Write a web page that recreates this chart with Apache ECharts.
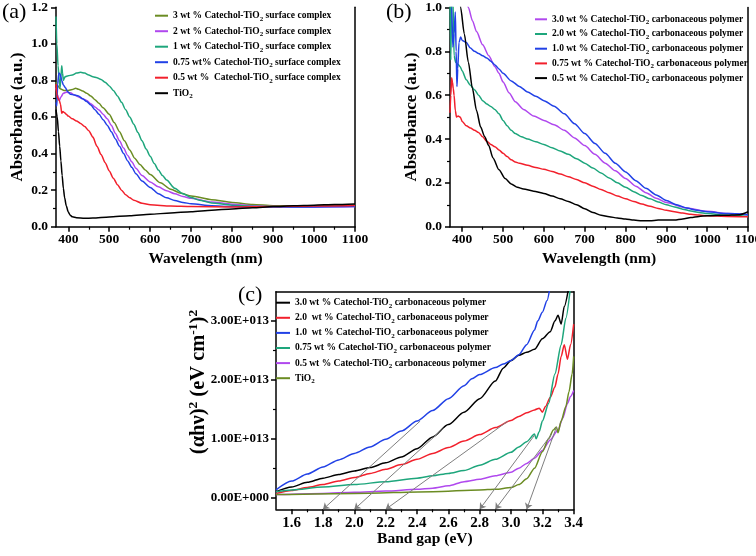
<!DOCTYPE html>
<html><head><meta charset="utf-8">
<script src="https://cdn.jsdelivr.net/npm/echarts@6/dist/echarts.min.js"></script>
<style>html,body{margin:0;padding:0;background:#fff}#c{width:756px;height:556px}</style>
</head><body><div id="c"></div>
<script>
// ---------- Panel (a): Catechol-TiO2 surface complex, absorbance vs wavelength ----------
const aXTicks = [400, 500, 600, 700, 800, 900, 1000, 1100];
const aXMinor = [450, 550, 650, 750, 850, 950, 1050];
const a3wt = [[370,0.79],[375,0.77],[380,0.755],[390,0.745],[400,0.745],[410,0.75],[418,0.757],[425,0.752],[435,0.742],[445,0.73],[455,0.715],[465,0.695],[475,0.675],[485,0.65],[500,0.615],[512,0.57],[525,0.52],[537,0.47],[550,0.42],[562,0.375],[575,0.34],[588,0.31],[600,0.285],[625,0.24],[650,0.205],[675,0.183],[700,0.168],[750,0.148],[800,0.133],[850,0.122],[900,0.115],[950,0.113],[1000,0.114],[1050,0.116],[1100,0.118]];
const a2wt = [[370,0.76],[374,0.72],[378,0.69],[382,0.71],[388,0.73],[395,0.735],[405,0.732],[415,0.72],[425,0.71],[435,0.7],[445,0.69],[455,0.672],[465,0.655],[475,0.638],[485,0.615],[495,0.59],[505,0.555],[515,0.51],[525,0.47],[535,0.43],[545,0.39],[555,0.355],[565,0.32],[580,0.28],[600,0.245],[620,0.218],[640,0.197],[660,0.18],[680,0.165],[700,0.155],[750,0.135],[800,0.123],[850,0.115],[900,0.11],[950,0.108],[1000,0.108],[1050,0.109],[1100,0.11]];
const a1wt = [[370,1.15],[372,1.0],[375,0.88],[378,0.8],[380,0.76],[382,0.82],[384,0.88],[386,0.84],[388,0.8],[392,0.82],[400,0.825],[410,0.83],[420,0.84],[430,0.845],[440,0.84],[450,0.83],[460,0.82],[470,0.815],[480,0.805],[490,0.79],[500,0.77],[510,0.745],[520,0.715],[530,0.68],[540,0.64],[550,0.6],[560,0.56],[570,0.515],[580,0.47],[590,0.425],[600,0.385],[610,0.345],[620,0.31],[630,0.28],[640,0.255],[660,0.21],[680,0.18],[700,0.16],[720,0.145],[750,0.13],[800,0.118],[850,0.112],[900,0.11],[950,0.11],[1000,0.112],[1050,0.114],[1100,0.116]];
const a075wt = [[370,0.68],[372,0.66],[374,0.78],[377,0.84],[380,0.835],[384,0.8],[388,0.775],[393,0.76],[398,0.74],[405,0.725],[415,0.72],[425,0.715],[435,0.7],[445,0.685],[455,0.665],[465,0.64],[475,0.615],[485,0.585],[495,0.555],[505,0.52],[515,0.48],[525,0.44],[535,0.4],[545,0.36],[555,0.325],[565,0.29],[580,0.25],[600,0.215],[620,0.18],[640,0.158],[660,0.143],[680,0.133],[700,0.125],[750,0.115],[800,0.11],[850,0.108],[900,0.108],[1000,0.108],[1100,0.11]];
const a05wt = [[370,0.78],[372,0.72],[375,0.7],[378,0.69],[381,0.67],[384,0.62],[387,0.63],[390,0.625],[395,0.615],[400,0.605],[410,0.59],[420,0.578],[430,0.565],[440,0.548],[450,0.525],[460,0.49],[470,0.44],[480,0.395],[490,0.35],[500,0.305],[510,0.265],[520,0.23],[530,0.2],[540,0.175],[550,0.158],[560,0.145],[580,0.128],[600,0.12],[650,0.113],[700,0.11],[800,0.108],[900,0.11],[1000,0.113],[1100,0.116]];
const aTiO2 = [[370,0.64],[373,0.6],[376,0.52],[379,0.44],[382,0.36],[385,0.28],[388,0.21],[391,0.16],[395,0.115],[400,0.08],[405,0.062],[410,0.054],[420,0.049],[440,0.046],[460,0.047],[500,0.053],[550,0.06],[600,0.068],[650,0.075],[700,0.082],[750,0.09],[800,0.097],[850,0.104],[900,0.11],[950,0.115],[1000,0.118],[1050,0.121],[1100,0.124]];
const aNames = ['3 wt % Catechol-TiO2 surface complex','2 wt % Catechol-TiO2 surface complex','1 wt % Catechol-TiO2 surface complex','0.75 wt% Catechol-TiO2 surface complex','0.5 wt %  Catechol-TiO2 surface complex','TiO2'];

// ---------- Panel (b): Catechol-TiO2 carbonaceous polymer, absorbance vs wavelength ----------
const bXTicks = [400, 500, 600, 700, 800, 900, 1000, 1100];
const bXMinor = [450, 550, 650, 750, 850, 950, 1050];
const b30wt = [[395,1.15],[405,1.07],[415,1.0],[425,0.94],[435,0.89],[450,0.83],[465,0.78],[480,0.73],[490,0.7],[500,0.66],[515,0.61],[530,0.57],[550,0.535],[575,0.505],[600,0.485],[625,0.465],[650,0.44],[675,0.405],[700,0.37],[725,0.33],[750,0.29],[775,0.255],[800,0.22],[825,0.185],[850,0.155],[875,0.13],[900,0.11],[950,0.085],[1000,0.07],[1050,0.06],[1100,0.055]];
const b20wt = [[370,1.05],[372,0.76],[374,1.05],[377,1.05],[380,0.78],[384,0.75],[390,0.74],[395,0.73],[400,0.71],[410,0.67],[420,0.645],[430,0.625],[440,0.6],[450,0.575],[460,0.56],[470,0.548],[480,0.535],[490,0.515],[500,0.485],[510,0.46],[520,0.44],[530,0.425],[545,0.41],[560,0.4],[580,0.388],[600,0.375],[620,0.36],[640,0.345],[660,0.33],[680,0.31],[700,0.29],[720,0.268],[740,0.245],[760,0.222],[780,0.2],[800,0.18],[820,0.16],[840,0.142],[860,0.127],[880,0.113],[900,0.1],[920,0.09],[940,0.08],[960,0.072],[980,0.065],[1000,0.06],[1050,0.052],[1100,0.047]];
const b10wt = [[370,1.3],[374,1.0],[377,0.82],[380,0.88],[383,0.98],[385,0.8],[387,0.64],[389,0.72],[392,0.84],[396,0.865],[400,0.85],[405,0.845],[410,0.84],[420,0.815],[430,0.8],[440,0.79],[450,0.78],[460,0.77],[470,0.755],[480,0.738],[490,0.72],[500,0.7],[520,0.665],[540,0.64],[560,0.615],[580,0.595],[600,0.575],[625,0.55],[650,0.515],[675,0.47],[700,0.425],[725,0.38],[750,0.335],[775,0.29],[800,0.25],[825,0.21],[850,0.175],[875,0.145],[900,0.12],[925,0.1],[950,0.085],[975,0.075],[1000,0.068],[1050,0.06],[1100,0.055]];
const b075wt = [[370,0.52],[372,0.6],[374,0.68],[376,0.66],[378,0.63],[380,0.6],[383,0.53],[386,0.5],[390,0.505],[395,0.5],[400,0.48],[410,0.46],[420,0.45],[430,0.44],[440,0.43],[450,0.41],[460,0.39],[470,0.375],[480,0.365],[490,0.35],[500,0.335],[510,0.32],[520,0.305],[530,0.295],[540,0.29],[560,0.28],[580,0.27],[600,0.262],[620,0.252],[640,0.24],[660,0.228],[680,0.215],[700,0.2],[720,0.185],[740,0.17],[760,0.155],[780,0.14],[800,0.127],[820,0.115],[840,0.103],[860,0.093],[880,0.083],[900,0.075],[920,0.068],[940,0.062],[960,0.057],[980,0.053],[1000,0.05],[1050,0.047],[1100,0.045]];
const b05wt = [[380,1.35],[390,1.12],[396,1.0],[405,0.88],[415,0.75],[425,0.63],[435,0.53],[445,0.455],[455,0.41],[465,0.37],[475,0.315],[490,0.26],[505,0.22],[520,0.195],[535,0.18],[550,0.172],[575,0.162],[600,0.152],[620,0.14],[640,0.128],[660,0.115],[680,0.1],[700,0.082],[720,0.065],[740,0.052],[760,0.045],[780,0.04],[800,0.035],[820,0.03],[840,0.027],[860,0.027],[880,0.03],[900,0.03],[920,0.03],[940,0.035],[960,0.042],[980,0.047],[1000,0.05],[1040,0.052],[1080,0.055],[1100,0.068]];
const bNames = ['3.0 wt % Catechol-TiO2 carbonaceous polymer','2.0 wt % Catechol-TiO2 carbonaceous polymer','1.0 wt % Catechol-TiO2 carbonaceous polymer','0.75 wt % Catechol-TiO2 carbonaceous polymer','0.5 wt % Catechol-TiO2 carbonaceous polymer'];

// ---------- Panel (c): Tauc plot, (αhν)^2 in units of 1E+13 vs band gap (eV) ----------
const cXTicks = [1.6, 1.8, 2.0, 2.2, 2.4, 2.6, 2.8, 3.0, 3.2, 3.4];
const cXMinor = [1.7, 1.9, 2.1, 2.3, 2.5, 2.7, 2.9, 3.1, 3.3];
const cYTicks = [0, 1, 2, 3];
const cYMinor = [0.5, 1.5, 2.5];
const cYMin = -0.2, cYMax = 3.5;
const c30wt = [[1.5,0.1],[1.6,0.18],[1.7,0.26],[1.8,0.33],[1.9,0.39],[2.0,0.45],[2.1,0.51],[2.2,0.59],[2.3,0.69],[2.4,0.83],[2.5,1.03],[2.6,1.24],[2.7,1.45],[2.8,1.68],[2.9,1.98],[2.95,2.2],[3.0,2.33],[3.05,2.42],[3.1,2.47],[3.15,2.52],[3.2,2.7],[3.25,2.82],[3.28,3.0],[3.3,3.1],[3.32,2.95],[3.34,3.25],[3.37,3.6]];
const c20wt = [[1.5,0.07],[1.6,0.12],[1.7,0.17],[1.8,0.22],[1.9,0.28],[2.0,0.34],[2.1,0.41],[2.2,0.48],[2.3,0.56],[2.4,0.65],[2.5,0.75],[2.6,0.85],[2.7,0.96],[2.8,1.07],[2.9,1.19],[3.0,1.31],[3.05,1.38],[3.1,1.44],[3.15,1.49],[3.18,1.52],[3.2,1.45],[3.22,1.55],[3.25,1.7],[3.28,1.88],[3.3,2.1],[3.32,2.4],[3.34,2.6],[3.36,2.35],[3.38,2.6],[3.4,2.95]];
const c10wt = [[1.5,0.13],[1.6,0.28],[1.7,0.4],[1.8,0.52],[1.9,0.64],[2.0,0.75],[2.1,0.86],[2.2,0.99],[2.3,1.13],[2.4,1.3],[2.5,1.48],[2.6,1.68],[2.7,1.9],[2.75,2.02],[2.8,2.09],[2.9,2.21],[2.95,2.27],[3.0,2.33],[3.05,2.43],[3.1,2.6],[3.15,2.85],[3.17,3.0],[3.2,3.15],[3.23,3.35],[3.25,3.6]];
const c075wt = [[1.5,0.1],[1.6,0.13],[1.8,0.18],[2.0,0.22],[2.2,0.27],[2.4,0.33],[2.5,0.37],[2.6,0.41],[2.7,0.46],[2.8,0.55],[2.9,0.65],[3.0,0.77],[3.05,0.86],[3.1,0.95],[3.15,1.08],[3.16,1.0],[3.18,1.12],[3.2,1.3],[3.24,1.6],[3.28,2.1],[3.32,2.6],[3.35,3.05],[3.38,3.6]];
const c05wt = [[1.5,0.05],[1.8,0.07],[2.0,0.09],[2.2,0.11],[2.4,0.14],[2.5,0.16],[2.6,0.2],[2.7,0.27],[2.8,0.31],[2.9,0.37],[3.0,0.43],[3.05,0.5],[3.1,0.58],[3.15,0.67],[3.2,0.8],[3.25,0.98],[3.3,1.15],[3.33,1.35],[3.36,1.6],[3.38,1.72],[3.4,1.82]];
const cTiO2 = [[1.5,0.05],[2.0,0.07],[2.5,0.1],[2.8,0.13],[2.9,0.14],[3.0,0.17],[3.05,0.22],[3.1,0.32],[3.15,0.5],[3.2,0.78],[3.24,1.0],[3.27,1.15],[3.29,1.2],[3.3,1.1],[3.32,1.3],[3.35,1.55],[3.37,1.8],[3.39,2.1],[3.4,2.4]];
const cArrowStart = [[2.42,1.3],[2.57,1.18],[2.98,1.3],[3.15,1.06],[3.26,1.08],[3.29,1.2]];
const cArrowEndX = [1.8, 2.0, 2.2, 2.8, 2.9, 3.1];
const cNames = ['3.0 wt % Catechol-TiO2 carbonaceous polymer','2.0  wt % Catechol-TiO2 carbonaceous polymer','1.0  wt % Catechol-TiO2 carbonaceous polymer','0.75 wt % Catechol-TiO2 carbonaceous polymer','0.5 wt % Catechol-TiO2 carbonaceous polymer','TiO2'];

// ---------- styling ----------
const FONT = '"Liberation Serif","Times New Roman",serif';
const COL = {olive:'#6b8c23', purple:'#b048ee', teal:'#1ea67c', blue:'#2141e6', red:'#f2202c', black:'#000000'};
const ZW = '\u200b'; // keeps panel (c) legend names distinct from panel (a)/(b)

const chart = echarts.init(document.getElementById('c'), null, {renderer:'canvas'});

const lbl = (size) => ({color:'#000', fontFamily:FONT, fontWeight:'bold', fontSize:size});
function mainX(gi, min, max, ticks, fmt, name, nameGap, labelSize) {
  return {gridIndex:gi, type:'value', min, max, position:'bottom',
    axisLine:{show:true, onZero:false, lineStyle:{color:'#000', width:1.5}},
    axisTick:{show:true, customValues:ticks, length:5, lineStyle:{color:'#000', width:1.5}},
    axisLabel:Object.assign({customValues:ticks, margin:6, formatter:fmt, alignMinLabel:'center', alignMaxLabel:'center', hideOverlap:false}, lbl(labelSize)),
    splitLine:{show:false},
    name, nameLocation:'middle', nameGap, nameTextStyle:lbl(15.5)};
}
function minorX(gi, min, max, ticks) {
  return {gridIndex:gi, type:'value', min, max, position:'bottom',
    axisLine:{show:false, onZero:false}, axisLabel:{show:false}, splitLine:{show:false},
    axisTick:{show:true, customValues:ticks, length:3, lineStyle:{color:'#000', width:1.2}}};
}
function lineOnly(gi, pos, min, max) {
  return {gridIndex:gi, type:'value', min, max, position:pos,
    axisLine:{show:true, onZero:false, lineStyle:{color:'#000', width:1.5}},
    axisTick:{show:false}, axisLabel:{show:false}, splitLine:{show:false}};
}
function mainYab(gi, max, name) {
  return {gridIndex:gi, type:'value', min:0, max, interval:0.2, position:'left',
    axisLine:{show:true, onZero:false, lineStyle:{color:'#000', width:1.5}},
    axisTick:{show:true, length:5, lineStyle:{color:'#000', width:1.5}},
    minorTick:{show:true, splitNumber:2, length:3, lineStyle:{color:'#000', width:1.2}},
    axisLabel:Object.assign({margin:8, formatter:v => v.toFixed(1)}, lbl(13.5)),
    splitLine:{show:false}, minorSplitLine:{show:false},
    name, nameLocation:'middle', nameGap:30, nameRotate:90, nameTextStyle:lbl(17)};
}

const xAxis = [
  mainX(0, 370, 1100, aXTicks, v => String(v), 'Wavelength (nm)', 24, 13.5),
  minorX(0, 370, 1100, aXMinor),
  mainX(1, 370, 1100, bXTicks, v => String(v), 'Wavelength (nm)', 24, 13.5),
  minorX(1, 370, 1100, bXMinor),
  mainX(2, 1.5, 3.4, cXTicks, v => v.toFixed(1), 'Band gap (eV)', 18, 15),
  minorX(2, 1.5, 3.4, cXMinor),
  lineOnly(2, 'top', 1.5, 3.4)
];
const yAxis = [
  mainYab(0, 1.2, 'Absorbance (a.u.)'),
  lineOnly(0, 'right', 0, 1.2),
  mainYab(1, 1.0, 'Absorbance (a.u.)'),
  lineOnly(1, 'right', 0, 1.0),
  {gridIndex:2, type:'value', min:cYMin, max:cYMax, position:'left',
    axisLine:{show:true, onZero:false, lineStyle:{color:'#000', width:1.5}},
    axisTick:{show:true, customValues:cYTicks, length:5, lineStyle:{color:'#000', width:1.5}},
    axisLabel:Object.assign({customValues:cYTicks, margin:7,
      formatter:v => v === 0 ? '0.00E+000' : v.toFixed(2) + 'E+013'}, lbl(13)),
    splitLine:{show:false}},
  {gridIndex:2, type:'value', min:cYMin, max:cYMax, position:'left',
    axisLine:{show:false, onZero:false}, axisLabel:{show:false}, splitLine:{show:false},
    axisTick:{show:true, customValues:cYMinor, length:3, lineStyle:{color:'#000', width:1.2}}},
  lineOnly(2, 'right', cYMin, cYMax)
];

function mk(name, data, color, xi, yi) {
  return {type:'line', name, data, color, xAxisIndex:xi, yAxisIndex:yi,
    showSymbol:false, symbol:'none', smooth:0.25, smoothMonotone:'x',
    lineStyle:{width:1.5, color}, emphasis:{disabled:true}, animation:false, clip:true, z:3};
}
const series = [
  mk(aNames[0], a3wt, COL.olive, 0, 0),
  mk(aNames[1], a2wt, COL.purple, 0, 0),
  mk(aNames[2], a1wt, COL.teal, 0, 0),
  mk(aNames[3], a075wt, COL.blue, 0, 0),
  mk(aNames[4], a05wt, COL.red, 0, 0),
  mk(aNames[5], aTiO2, COL.black, 0, 0),
  mk(bNames[0], b30wt, COL.purple, 2, 2),
  mk(bNames[1], b20wt, COL.teal, 2, 2),
  mk(bNames[2], b10wt, COL.blue, 2, 2),
  mk(bNames[3], b075wt, COL.red, 2, 2),
  mk(bNames[4], b05wt, COL.black, 2, 2),
  mk(cNames[0] + ZW, c30wt, COL.black, 4, 4),
  mk(cNames[1] + ZW, c20wt, COL.red, 4, 4),
  mk(cNames[2] + ZW, c10wt, COL.blue, 4, 4),
  mk(cNames[3] + ZW, c075wt, COL.teal, 4, 4),
  mk(cNames[4] + ZW, c05wt, COL.purple, 4, 4),
  mk(cNames[5] + ZW, cTiO2, COL.olive, 4, 4)
];
series[11].markLine = {
  silent:true, animation:false, symbol:['none','arrow'], symbolSize:6,
  label:{show:false}, emphasis:{disabled:true},
  lineStyle:{color:'#7f7f7f', width:1, type:'solid'},
  data: cArrowStart.map((s, i) => [{coord:s}, {coord:[cArrowEndX[i], cYMin]}])
};

const legRich = {
  s:{fontSize:7, fontWeight:'bold', fontFamily:FONT, color:'#000', verticalAlign:'bottom', lineHeight:13}
};
function legend(names, left, top, iw, gap) {
  return {show:true, orient:'vertical', left, top, itemWidth:iw, itemHeight:2, icon:'rect',
    itemGap:gap, selectedMode:false, padding:0, data:names,
    formatter: n => n.replace(/\u200b/g, '').replace('TiO2', 'TiO{s|2}'),
    textStyle:{fontSize:9.5, fontWeight:'bold', fontFamily:FONT, color:'#000', lineHeight:13, rich:legRich}};
}

chart.setOption({
  backgroundColor:'#fff',
  animation:false,
  grid:[
    {left:56, top:7.3, width:299, height:219.4, containLabel:false, outerBoundsMode:'none'},
    {left:450, top:7.5, width:298, height:219.2, containLabel:false, outerBoundsMode:'none'},
    {left:276, top:291.7, width:297.7, height:217.6, containLabel:false, outerBoundsMode:'none'}
  ],
  xAxis, yAxis, series,
  legend:[
    legend(aNames, 155, 9.2, 13, 2.5),
    legend(bNames, 535, 12.8, 12, 1.7),
    legend(cNames.map(n => n + ZW), 276, 296.2, 14, 2.1)
  ],
  graphic:[
    {type:'text', left:2, top:1, style:{text:'(a)', font:'22px ' + FONT, fill:'#000'}},
    {type:'text', left:386, top:1, style:{text:'(b)', font:'22px ' + FONT, fill:'#000'}},
    {type:'text', left:238, top:284, style:{text:'(c)', font:'22px ' + FONT, fill:'#000'}},
    {type:'text', x:199, y:382, rotation:Math.PI/2,
      style:{text:'(αhν){p|2} (eV cm{p|-1}){p|2}', fill:'#000', align:'center', verticalAlign:'middle',
        fontSize:20.5, fontWeight:'bold', fontFamily:FONT,
        rich:{p:{fontSize:13.5, fontWeight:'bold', fontFamily:FONT, fill:'#000', verticalAlign:'top', lineHeight:24}}}}
  ]
});
</script></body></html>
